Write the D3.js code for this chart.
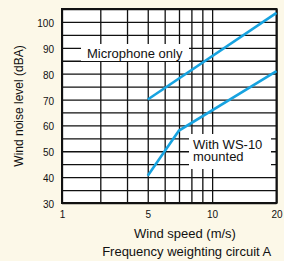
<!DOCTYPE html>
<html><head><meta charset="utf-8">
<script src="https://cdn.jsdelivr.net/npm/d3@7"></script>
<style>
html,body{margin:0;padding:0;background:#fcf8e8;}
svg{display:block;font-family:"Liberation Sans",Arial,Helvetica,sans-serif;}
</style>
</head><body>
<svg id="c" width="284" height="261"></svg>
<script>
// ---- data ----
const speedGrid = [1, 3, 4, 5, 6, 7, 8, 9, 10, 20];
const speedTicks = [1, 5, 10, 20];
const levelGrid = [30, 35, 40, 45, 50, 55, 60, 65, 70, 75, 80, 85, 90, 95, 100, 105];
const levelTicks = [30, 40, 50, 60, 70, 80, 90, 100];
const micSpeed = [5, 20];
const micLevel = [70, 103.5];
const wsSpeed = [5, 7, 20];
const wsLevel = [40.5, 58, 81];
const labelMic = "Microphone only";
const labelWs = ["With WS-10", "mounted"];
const yTitle = "Wind noise level (dBA)";
const xTitle = "Wind speed (m/s)";
const xNote = "Frequency weighting circuit A";

// ---- layout ----
const L = 62, R = 276.5, T = 9, B = 203;
const svg = d3.select("#c");
svg.append("rect").attr("width", 284).attr("height", 261).attr("fill", "#fcf8e8");

// broken log axis: leftmost gridline is labelled 1
const x = d3.scaleLog().domain([1, 3, 20]).range([L, L + 38.3, R]);
const y = d3.scaleLinear().domain([30, 105]).range([B, T]);

svg.append("rect").attr("x", L).attr("y", T).attr("width", R - L).attr("height", B - T).attr("fill", "#fff");

// grid
const gx = svg.append("g").attr("transform", `translate(0,${B})`)
  .call(d3.axisBottom(x).tickValues(speedGrid).tickSize(-(B - T)).tickFormat(""));
gx.select(".domain").remove();
gx.selectAll("line").attr("stroke", "#111").attr("stroke-width", 1.3);

const gy = svg.append("g").attr("transform", `translate(${L},0)`)
  .call(d3.axisLeft(y).tickValues(levelGrid).tickSize(-(R - L)).tickFormat(""));
gy.select(".domain").remove();
gy.selectAll("line").attr("stroke", "#111").attr("stroke-width", 1.3);

// border
svg.append("rect").attr("x", L).attr("y", T).attr("width", R - L).attr("height", B - T)
  .attr("fill", "none").attr("stroke", "#111").attr("stroke-width", 2);

// tick labels
const ax = svg.append("g").attr("transform", `translate(0,${B})`)
  .call(d3.axisBottom(x).tickValues(speedTicks).tickSize(0).tickPadding(8).tickFormat(d3.format("d")));
ax.select(".domain").remove();
ax.selectAll("text").attr("font-size", 10).attr("fill", "#111").attr("font-family", null);

const ay = svg.append("g").attr("transform", `translate(${L},0)`)
  .call(d3.axisLeft(y).tickValues(levelTicks).tickSize(0).tickPadding(8).tickFormat(d3.format("d")));
ay.select(".domain").remove();
ay.selectAll("text").attr("font-size", 10).attr("fill", "#111").attr("font-family", null).attr("dy", "0.45em");

// curves
const line = d3.line().x(d => x(d[0])).y(d => y(d[1]));
const blue = "#17a3e0";
svg.append("path").datum(micSpeed.map((s, i) => [s, micLevel[i]]))
  .attr("d", line).attr("fill", "none").attr("stroke", blue).attr("stroke-width", 2.6);
svg.append("path").datum(wsSpeed.map((s, i) => [s, wsLevel[i]]))
  .attr("d", line).attr("fill", "none").attr("stroke", blue).attr("stroke-width", 2.6);

// annotations
svg.append("rect").attr("x", 81).attr("y", 44).attr("width", 108).attr("height", 17).attr("fill", "#fff");
svg.append("text").attr("x", 87).attr("y", 57.5).attr("font-size", 13).attr("fill", "#111").text(labelMic);

svg.append("rect").attr("x", 189).attr("y", 134).attr("width", 82).attr("height", 35).attr("fill", "#fff");
svg.append("text").attr("font-size", 13).attr("fill", "#111")
  .selectAll("tspan").data(labelWs).join("tspan")
  .attr("x", 193).attr("y", (d, i) => 148.5 + i * 12).text(d => d);

// titles
svg.append("text").attr("transform", `translate(22.5,${(T + B) / 2}) rotate(-90)`)
  .attr("text-anchor", "middle").attr("font-size", 12).attr("fill", "#111").text(yTitle);
svg.append("text").attr("x", 185).attr("y", 238).attr("text-anchor", "middle")
  .attr("font-size", 13).attr("fill", "#111").text(xTitle);
svg.append("text").attr("x", 186.7).attr("y", 255.5).attr("text-anchor", "middle")
  .attr("font-size", 13).attr("fill", "#111").text(xNote);
</script>
</body></html>
